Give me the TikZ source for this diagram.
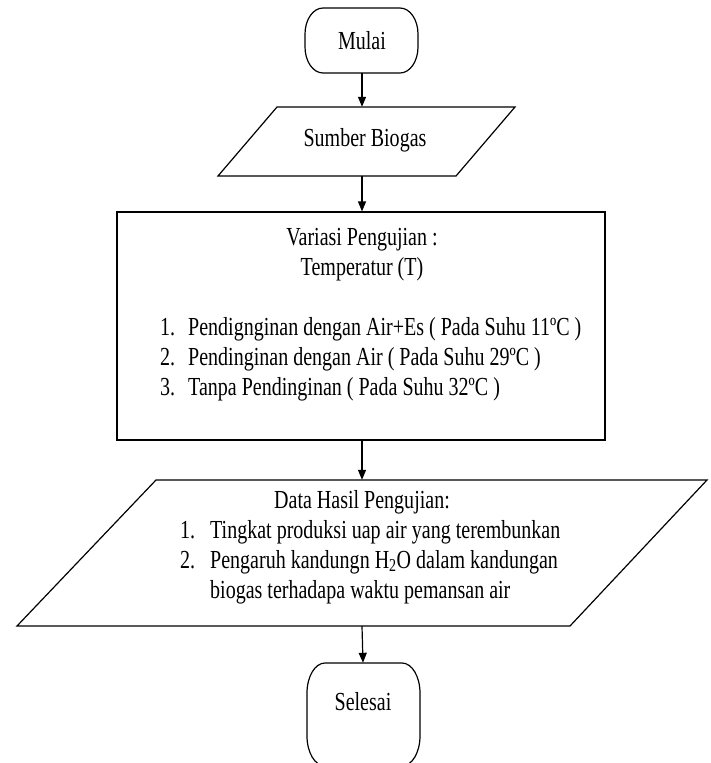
\documentclass[tikz,border=0pt]{standalone}
\usepackage{fontspec}
\setmainfont[FakeStretch=0.77]{Liberation Serif}
\usetikzlibrary{arrows.meta}
\begin{document}
\begin{tikzpicture}[x=1pt,y=-1pt,
  txt/.style={font=\fontsize{26}{30}\selectfont, inner sep=0pt},
  frame/.style={draw=black, line width=1.2pt},
  hidden/.style={draw=none, inner sep=0pt},
  arr/.style={line width=1.2pt, -{Triangle[length=10pt,width=8pt]}}]
\useasboundingbox (0,0) rectangle (711,763);
\clip (0,0) rectangle (711,763);

% Mulai (terminator)
\draw[frame] (323,8) -- (400,8) .. controls (409.94,8) and (418,19.64) .. (418,34) -- (418,47)
  .. controls (418,61.36) and (409.94,73) .. (400,73) -- (323,73)
  .. controls (313.06,73) and (305,61.36) .. (305,47) -- (305,34)
  .. controls (305,19.64) and (313.06,8) .. (323,8) -- cycle;
\node[hidden, minimum width=113pt, minimum height=65pt] (mulai) at (362,40.5) {};
\node[txt, anchor=base] (mulaitxt) at (362,49) {Mulai};

% Sumber Biogas (input)
\draw[frame] (277,107) -- (515,107) -- (456,176) -- (218,176) -- cycle;
\node[hidden, minimum width=238pt, minimum height=69pt] (sumber) at (362,141.5) {};
\node[txt, anchor=base] (sumbertxt) at (365,146) {Sumber Biogas};

% Variasi Pengujian (process)
\node[frame, minimum width=488pt, minimum height=228pt, inner sep=0pt] (proses) at (361,326) {};
\node[txt, anchor=base] (p1) at (362,245) {Variasi Pengujian :};
\node[txt, anchor=base] (p2) at (362,275) {Temperatur (T)};
\node[txt, anchor=base west] (n1) at (160,335) {1.};
\node[txt, anchor=base west] (i1) at (188,335) {Pendignginan dengan Air+Es ( Pada Suhu 11ºC )};
\node[txt, anchor=base west] (n2) at (160,365) {2.};
\node[txt, anchor=base west] (i2) at (188,365) {Pendinginan dengan Air ( Pada Suhu 29ºC )};
\node[txt, anchor=base west] (n3) at (160,395) {3.};
\node[txt, anchor=base west] (i3) at (188,395) {Tanpa Pendinginan ( Pada Suhu 32ºC )};

% Data Hasil Pengujian (output)
\draw[frame] (156,480) -- (707,480) -- (570,626) -- (17,626) -- cycle;
\node[hidden, minimum width=551pt, minimum height=146pt] (data) at (362,553) {};
\node[txt, anchor=base] (d0) at (362,508) {Data Hasil Pengujian:};
\node[txt, anchor=base west] (dn1) at (180,538) {1.};
\node[txt, anchor=base west] (di1) at (210,538) {Tingkat produksi uap air yang terembunkan};
\node[txt, anchor=base west] (dn2) at (180,568) {2.};
\node[txt, anchor=base west] (di2) at (210,568) {Pengaruh kandungn H\textsubscript{2}O dalam kandungan};
\node[txt, anchor=base west] (di3) at (210,598) {biogas terhadapa waktu pemansan air};

% Selesai (terminator)
\draw[frame] (325,663) -- (402,663) .. controls (411.94,663) and (420,676.43) .. (420,693) -- (420,736)
  .. controls (420,752.57) and (411.94,766) .. (402,766) -- (325,766)
  .. controls (315.06,766) and (307,752.57) .. (307,736) -- (307,693)
  .. controls (307,676.43) and (315.06,663) .. (325,663) -- cycle;
\node[hidden, minimum width=113pt, minimum height=103pt] (selesai) at (363,714.5) {};
\node[txt, anchor=base] (selesaitxt) at (363,710) {Selesai};

% connectors
\draw[arr] (mulai.south) -- (sumber.north);
\draw[arr] (sumber.south) -- (proses.north -| sumber.south);
\draw[arr] (proses.south -| sumber.south) -- (data.north);
\draw[arr] (data.south) -- (selesai.north);
\end{tikzpicture}
\end{document}
